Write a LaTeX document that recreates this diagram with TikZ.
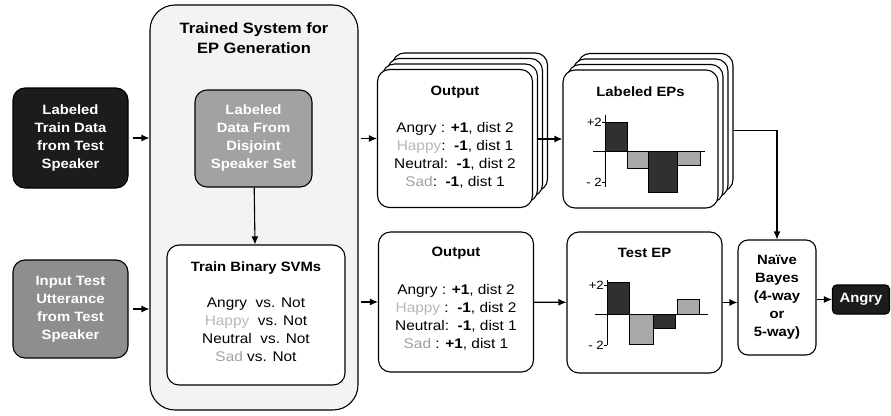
\documentclass[tikz,border=0pt]{standalone}
\usepackage{fontspec}
\setmainfont{Liberation Sans}[FakeStretch=1.1]
\usepackage{xcolor}
\usetikzlibrary{arrows.meta,positioning}
\definecolor{darkfill}{HTML}{1C1C1C}
\definecolor{midfill}{HTML}{8E8E8E}
\definecolor{greyfill}{HTML}{A2A2A2}
\definecolor{panelfill}{HTML}{F3F3F3}
\definecolor{happyword}{HTML}{B8B8B8}
\definecolor{sadword}{HTML}{A0A0A0}
\definecolor{darkbar}{HTML}{303030}
\definecolor{lightbar}{HTML}{A8A8A8}
\tikzset{
  box/.style = {
    draw,
    line width=1.1pt,
    rounded corners=12pt,
    align=center,
    inner sep=0pt
  },
  card/.style = {
    box,
    fill=white,
    minimum width=155pt,
    minimum height=138pt
  },
  flow/.style = {
    -{Latex[length=8pt,width=7pt]},
    line width=1.1pt
  },
  boxtext/.style = {
    align=center,
    font={\fontsize{13.5}{18}\selectfont\bfseries}
  },
  titletext/.style = {
    align=center,
    font={\fontsize{15}{20}\selectfont\bfseries}
  },
  bodytext/.style = {
    align=center,
    font={\fontsize{14}{18}\selectfont}
  },
  ticktext/.style = {
    font={\fontsize{12}{14}\selectfont},
    inner sep=1pt
  },
  axis/.style = {
    line width=0.7pt
  },
  bar/.style = {
    draw,
    line width=0.7pt
  },
}

\begin{document}
\begin{tikzpicture}[x=1pt,y=-1pt]

  \useasboundingbox (0,0) rectangle (891,415);

  % inputs
  \node[box, boxtext, fill=darkfill, text=white, minimum width=115pt, minimum height=100pt]
    (traindata) at (70.5,138) {Labeled\\Train Data\\from Test\\Speaker};
  \node[box, boxtext, fill=midfill, text=white, minimum width=115pt, minimum height=98pt]
    (testinput) at (70.5,309) {Input Test\\Utterance\\from Test\\Speaker};

  % trained system
  \node[box, fill=panelfill, rounded corners=25pt, minimum width=208pt, minimum height=405pt]
    (system) at (254,207.5) {};
  \node[titletext] (systemtitle) at (254,38) {Trained System for\\EP Generation};
  \node[box, boxtext, fill=greyfill, text=white, minimum width=117pt, minimum height=97pt]
    (disjoint) at (253.5,138.5) {Labeled\\Data From\\Disjoint\\Speaker Set};
  \node[box, fill=white, minimum width=178pt, minimum height=140pt]
    (svm) at (256,315) {};
  \node[boxtext] (svmtitle) at (256,268) {Train Binary SVMs};
  \node[bodytext] (svmlist) at (256,330)
    {Angry\ \ vs. Not\\ \textcolor{happyword}{Happy}\ \ vs. Not\\
     Neutral\ \ vs. Not\\ \textcolor{sadword}{Sad} vs. Not};

  % stacked cards
  \foreach \k in {3,2,1} {
    \node[card] (outtop\k) at ({455+5*\k},{138.5-5.5*\k}) {};
    \node[card] (labeps\k) at ({640.5+5*\k},{139-5.5*\k}) {};
  }
  \node[card] (outtop) at (455,138.5) {};
  \node[boxtext] (outtoptitle) at (455,92) {Output};
  \node[bodytext] (outtoplist) at (455,155)
    {Angry : \textbf{+1}, dist 2\\ \textcolor{happyword}{Happy}:\ \ \textbf{-1}, dist 1\\
     Neutral:\ \ \textbf{-1}, dist 2\\ \textcolor{sadword}{Sad}:\ \ \textbf{-1}, dist 1};
  \node[card] (labeps) at (640.5,139) {};
  \node[boxtext] (labepstitle) at (640.5,92) {Labeled EPs};

  \node[card, minimum height=140pt] (outbot) at (456,302) {};
  \node[boxtext] (outbottitle) at (456,253) {Output};
  \node[bodytext] (outbotlist) at (456,317)
    {Angry : \textbf{+1}, dist 2\\ \textcolor{happyword}{Happy} :\ \ \textbf{-1}, dist 2\\
     Neutral:\ \ \textbf{-1}, dist 1\\ \textcolor{sadword}{Sad} : \textbf{+1}, dist 1};
  \node[card, minimum height=141pt] (testep) at (644.5,302.5) {};
  \node[boxtext] (testeptitle) at (644.5,253) {Test EP};

  % profiles
  \begin{scope}[shift={(605,151)}]
    \foreach \xa/\xb/\h/\shade in {0/22/-29/darkbar, 22/43/17/lightbar, 43/72/41/darkbar, 72/95/14/lightbar}
      \draw[bar, fill=\shade] (\xa,0) rectangle (\xb,\h);
    \draw[axis] (0,-36) -- (0,36);
    \draw[axis] (-12,0) -- (100,0);
    \draw[axis] (-3,-29) -- (0,-29);
    \draw[axis] (-3,31) -- (0,31);
    \node[ticktext, anchor=east] (labplus) at (-2,-29) {+2};
    \node[ticktext, anchor=east] (labminus) at (-2,31) {- 2};
  \end{scope}

  \begin{scope}[shift={(607,314)}]
    \foreach \xa/\xb/\h/\shade in {0/22/-32/darkbar, 22/46/30/lightbar, 46/68/14/darkbar, 70/92/-15/lightbar}
      \draw[bar, fill=\shade] (\xa,0) rectangle (\xb,\h);
    \draw[axis] (0,-34) -- (0,31);
    \draw[axis] (-12,0) -- (101,0);
    \draw[axis] (-3,-29) -- (0,-29);
    \draw[axis] (-3,31) -- (0,31);
    \node[ticktext, anchor=east] (testplus) at (-2,-29) {+2};
    \node[ticktext, anchor=east] (testminus) at (-2,31) {- 2};
  \end{scope}

  % decision
  \node[box, boxtext, fill=white, rounded corners=10pt, minimum width=78pt, minimum height=115pt]
    (bayes) at (777,297.5) {Naïve\\Bayes\\(4-way\\or\\5-way)};
  \node[box, boxtext, fill=darkfill, text=white, rounded corners=4pt, minimum width=57pt, minimum height=29pt]
    (result) at (861,299.5) {Angry};

  % connectors
  \draw[flow, shorten <=4pt] (traindata) -- (traindata -| system.west);
  \draw[flow, shorten <=4pt] (testinput) -- (testinput -| system.west);
  \draw[flow] (disjoint) -- (svm);
  \draw[flow, shorten <=2pt] (outtop.west -| system.east) -- (outtop.west);
  \draw[flow, shorten <=2pt] (outbot.west -| system.east) -- (outbot.west);
  \draw[flow] (outtop1.east |- labeps.west) -- (labeps.west);
  \draw[flow] (outbot) -- (testep);
  \draw[flow] ([yshift=-8pt]labeps3.east) -| (bayes.north);
  \draw[flow] (testep) -- (testep -| bayes.west);
  \draw[flow] (bayes.east |- result) -- (result.west);

\end{tikzpicture}
\end{document}
